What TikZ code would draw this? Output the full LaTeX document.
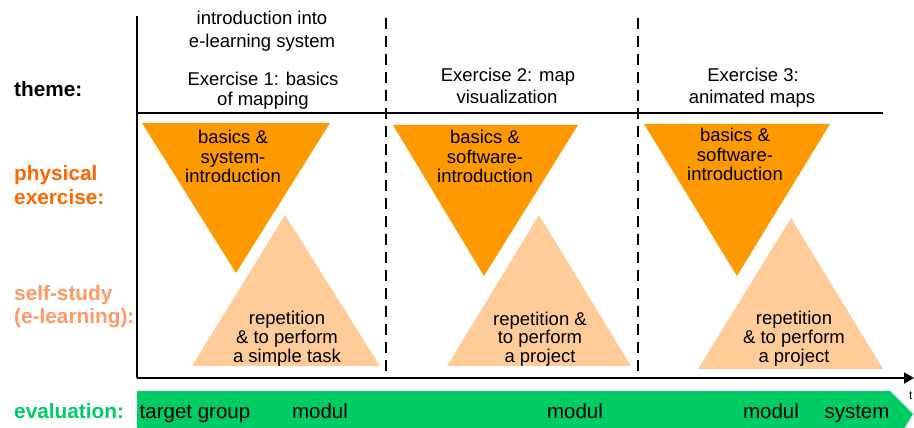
\documentclass[tikz,border=0pt]{standalone}
\usepackage{fontspec}
\setmainfont{Liberation Sans}
\usetikzlibrary{arrows.meta}
\definecolor{dorange}{HTML}{FF9900}
\definecolor{lorange}{HTML}{FFCC99}
\definecolor{physc}{HTML}{FF6600}
\definecolor{selfc}{HTML}{FF9966}
\definecolor{evalg}{HTML}{00CC66}
\tikzset{
  txt/.style={anchor=base, inner sep=0pt, font=\fontsize{18.5}{20}\selectfont},
  evtxt/.style={anchor=base, inner sep=0pt, font=\fontsize{20.5}{22}\selectfont},
  lbl/.style={anchor=base west, inner sep=0pt, font=\fontsize{20.8}{22}\selectfont\bfseries},
  axis/.style={line width=2pt},
  sep/.style={line width=2pt, dash pattern=on 11pt off 7pt},
}
\begin{document}
\begin{tikzpicture}[x=1pt,y=-1pt]
\useasboundingbox (0,0) rectangle (914,428);
\clip (0,0) rectangle (914,428);
% green band
\fill[evalg] (137,391) -- (890,391) -- (913,414) -- (897,440) -- (137,440) -- cycle;
% triangles
\fill[dorange] (142,123) -- (330,123) -- (236,273) -- cycle;
\fill[lorange] (285,215) -- (380,366) -- (192,366) -- cycle;
\fill[dorange] (393,125) -- (578,125) -- (484,276) -- cycle;
\fill[lorange] (539,215) -- (631,366) -- (447,366) -- cycle;
\fill[dorange] (644,124) -- (830,124) -- (737,276) -- cycle;
\fill[lorange] (791,218) -- (883,369) -- (698,369) -- cycle;
% axes
\coordinate (o) at (137,378);
\coordinate (top) at (137,16);
\coordinate (hl) at (137,113);
\coordinate (hr) at (883,113);
\coordinate (tip) at (914,378);
\draw[axis] (top) -- (o);
\draw[axis] (hl) -- (hr);
\draw[axis, -{Triangle[length=10pt,width=11pt]}] (o) -- (tip);
\coordinate (d1t) at (386,18); \coordinate (d1b) at (386,378);
\coordinate (d2t) at (638,18); \coordinate (d2b) at (638,378);
\draw[sep] (d1t) -- (d1b);
\draw[sep] (d2t) -- (d2b);
\node[anchor=base west, inner sep=0pt, font=\fontsize{12}{12}\selectfont] (t) at (909,399) {t};
% left labels
\node[lbl] (theme) at (14,97) {theme:};
\node[lbl, text=physc] (phys1) at (14,180) {physical};
\node[lbl, text=physc] (phys2) at (14,204) {exercise:};
\node[lbl, text=selfc] (self1) at (14,300) {self-study};
\node[lbl, text=selfc] (self2) at (14,323) {(e-learning):};
\node[lbl, text=evalg] (eval) at (14,418) {evaluation:};
% headers
\node[txt] (h1a) at (262,25) {introduction into};
\node[txt] (h1b) at (262,48) {e-learning system};
\node[txt] (h1c) at (263,85) {Exercise 1: basics};
\node[txt] (h1d) at (263,106) {of mapping};
\node[txt] (h2a) at (508,82) {Exercise 2: map};
\node[txt] (h2b) at (507,103) {visualization};
\node[txt] (h3a) at (753,82) {Exercise 3:};
\node[txt] (h3b) at (752,103) {animated maps};
% upper triangle texts
\node[txt] (p1a) at (233,143) {basics \&};
\node[txt] (p1b) at (233,163) {system-};
\node[txt] (p1c) at (233,182) {introduction};
\node[txt] (p2a) at (485,143) {basics \&};
\node[txt] (p2b) at (485,163) {software-};
\node[txt] (p2c) at (485,182) {introduction};
\node[txt] (p3a) at (735,142) {basics \&};
\node[txt] (p3b) at (735,161) {software-};
\node[txt] (p3c) at (735,180) {introduction};
% lower triangle texts
\node[txt] (s1a) at (287,324) {repetition};
\node[txt] (s1b) at (287,343) {\& to perform};
\node[txt] (s1c) at (287,362) {a simple task};
\node[txt] (s2a) at (540,325) {repetition \&};
\node[txt] (s2b) at (540,343) {to perform};
\node[txt] (s2c) at (540,362) {a project};
\node[txt] (s3a) at (794,324) {repetition};
\node[txt] (s3b) at (794,343) {\& to perform};
\node[txt] (s3c) at (794,362) {a project};
% evaluation texts
\node[evtxt] (e1) at (195,418) {target group};
\node[evtxt] (e2) at (320,418) {modul};
\node[evtxt] (e3) at (575,418) {modul};
\node[evtxt] (e4) at (771,418) {modul};
\node[evtxt] (e5) at (857,418) {system};
\end{tikzpicture}
\end{document}
